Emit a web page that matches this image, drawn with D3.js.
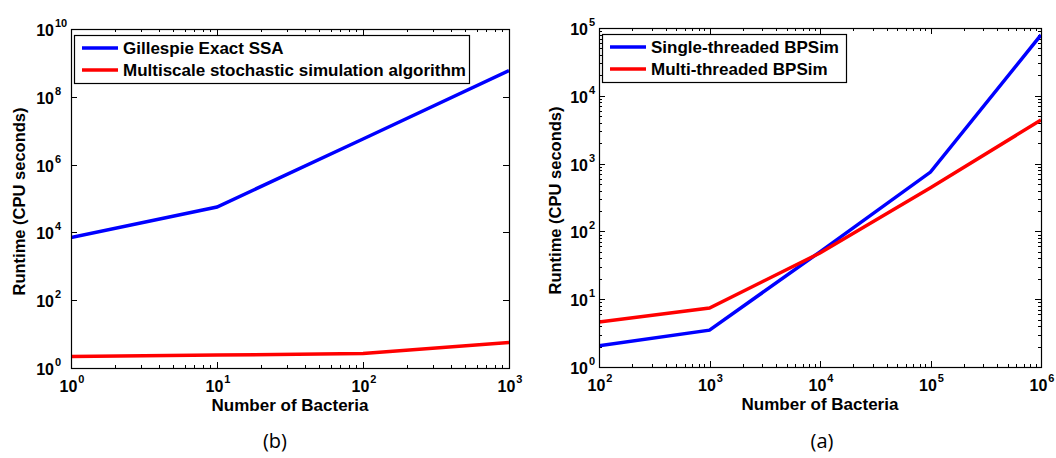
<!DOCTYPE html>
<html lang="en">
<head>
  <meta charset="utf-8" />
  <title>Runtime vs number of bacteria</title>
  <script src="https://cdn.jsdelivr.net/npm/d3@7"></script>
  <style>
    body { margin: 0; background: #fff; }
    svg text { font-family: "Liberation Sans", Arial, sans-serif; font-weight: bold; fill: #000; }
    svg text.caption { font-family: "Open Sans", "Liberation Sans", sans-serif; font-weight: normal; }
  </style>
</head>
<body>
<div id="chart"></div>
<script>
  // ---- data ----
  // panel (b): small populations
  const bacteriaB = [1, 10, 100, 1000];
  const gillespieSSA = [7000, 56000, 5.7e6, 5.9e8];
  const multiscaleSSA = [2.2, 2.4, 2.7, 5.7];
  const xExpB = [0, 1, 2, 3];
  const yExpB = [0, 2, 4, 6, 8, 10];

  // panel (a): BPSim
  const bacteriaA = [1e2, 1e3, 1e4, 1e5, 1e6];
  const singleThreaded = [2.05, 3.5, 50, 750, 79000];
  const multiThreaded = [4.6, 7.4, 48, 440, 4400];
  const xExpA = [2, 3, 4, 5, 6];
  const yExpA = [0, 1, 2, 3, 4, 5];

  const w = 1056, h = 458;
  const svg = d3.select("#chart").append("svg")
      .attr("width", w)
      .attr("height", h);

  function minorValues(expLo, expHi) {
    const out = [];
    for (let k = expLo; k < expHi; k++) {
      for (let m = 2; m <= 9; m++) out.push(m * Math.pow(10, k));
    }
    return out;
  }

  function drawPanel(cfg) {
    const x = d3.scaleLog().domain(cfg.xDomain).range([cfg.left, cfg.right]);
    const y = d3.scaleLog().domain(cfg.yDomain).range([cfg.bottom, cfg.top]);
    const g = svg.append("g");

    const majorX = cfg.xExp.map(e => Math.pow(10, e));
    const minorX = minorValues(cfg.xExp[0], cfg.xExp[cfg.xExp.length - 1]);
    const majorY = cfg.yExp.map(e => Math.pow(10, e));
    const minorY = cfg.yMinor ? minorValues(cfg.yExp[0], cfg.yExp[cfg.yExp.length - 1]) : [];

    // ticks point inward on all four sides
    const tickG = g.append("g").attr("stroke", "#000").attr("stroke-width", 1);
    function xTicks(vals, len) {
      vals.forEach(v => {
        const px = Math.round(x(v)) + 0.5;
        tickG.append("line").attr("x1", px).attr("x2", px).attr("y1", cfg.bottom).attr("y2", cfg.bottom - len);
        tickG.append("line").attr("x1", px).attr("x2", px).attr("y1", cfg.top).attr("y2", cfg.top + len);
      });
    }
    function yTicks(vals, len) {
      vals.forEach(v => {
        const py = Math.round(y(v)) + 0.5;
        tickG.append("line").attr("y1", py).attr("y2", py).attr("x1", cfg.left).attr("x2", cfg.left + len);
        tickG.append("line").attr("y1", py).attr("y2", py).attr("x1", cfg.right).attr("x2", cfg.right - len);
      });
    }
    xTicks(majorX, 6); xTicks(minorX, 3);
    yTicks(majorY, 6); yTicks(minorY, 3);

    // tick labels as 10^k
    cfg.xExp.forEach(e => {
      const t = g.append("text")
          .attr("x", x(Math.pow(10, e)) + 1)
          .attr("y", cfg.bottom + 24)
          .attr("text-anchor", "middle")
          .attr("font-size", 16);
      t.append("tspan").text("10");
      t.append("tspan").attr("font-size", 11).attr("dx", 1).attr("dy", -9).text(e);
    });
    // y labels: the base "10" is right-aligned, the exponent hangs to its right
    cfg.yExp.forEach(e => {
      const py = y(Math.pow(10, e));
      g.append("text")
          .attr("x", cfg.left - cfg.yBaseOff)
          .attr("y", py + 7)
          .attr("text-anchor", "end")
          .attr("font-size", 16)
          .text("10");
      g.append("text")
          .attr("x", cfg.left - cfg.yBaseOff + 1)
          .attr("y", py - 2)
          .attr("font-size", 11)
          .text(e);
    });

    // axis titles
    g.append("text")
        .attr("x", (cfg.left + cfg.right) / 2)
        .attr("y", cfg.bottom + 43)
        .attr("text-anchor", "middle")
        .attr("font-size", 17)
        .text("Number of Bacteria");
    g.append("text")
        .attr("transform", `translate(${cfg.left - cfg.yTitleOff},${(cfg.top + cfg.bottom) / 2 + 3}) rotate(-90)`)
        .attr("text-anchor", "middle")
        .attr("font-size", 16.5)
        .text("Runtime (CPU seconds)");

    // the series
    const clipId = "clip" + cfg.id;
    svg.append("clipPath").attr("id", clipId)
      .append("rect")
        .attr("x", cfg.left).attr("y", cfg.top)
        .attr("width", cfg.right - cfg.left).attr("height", cfg.bottom - cfg.top);
    const line = d3.line().x(d => x(d[0])).y(d => y(d[1]));
    cfg.series.forEach(s => {
      g.append("path")
          .attr("clip-path", `url(#${clipId})`)
          .attr("d", line(d3.zip(cfg.xs, s.values)))
          .attr("fill", "none")
          .attr("stroke", s.color)
          .attr("stroke-width", 3.5);
    });

    // frame
    g.append("rect")
        .attr("x", cfg.left + 0.5).attr("y", cfg.top + 0.5)
        .attr("width", cfg.right - cfg.left).attr("height", cfg.bottom - cfg.top)
        .attr("fill", "none").attr("stroke", "#000").attr("stroke-width", 1.2);

    // legend
    const lg = g.append("g").attr("transform", `translate(${cfg.left + 3},${cfg.top + 6})`);
    lg.append("rect")
        .attr("x", 0.5).attr("y", 0.5)
        .attr("width", cfg.legendW).attr("height", 48)
        .attr("fill", "#fff").attr("stroke", "#000").attr("stroke-width", 1.2);
    cfg.series.forEach((s, i) => {
      const ly = 13 + i * 22;
      lg.append("line")
          .attr("x1", 8).attr("x2", 44).attr("y1", ly).attr("y2", ly)
          .attr("stroke", s.color).attr("stroke-width", 3.5);
      lg.append("text")
          .attr("x", 49).attr("y", ly + 6)
          .attr("font-size", 17)
          .text(s.name);
    });

    // caption
    svg.append("text")
        .attr("class", "caption")
        .attr("x", cfg.captionX)
        .attr("y", 448)
        .attr("text-anchor", "middle")
        .attr("font-size", 20)
        .text(cfg.caption);
  }

  drawPanel({
    id: "b",
    left: 71, right: 509, top: 29, bottom: 368,
    xDomain: [1, 1000], yDomain: [1, 1e10],
    xExp: xExpB, yExp: yExpB, yMinor: false,
    xs: bacteriaB,
    series: [
      { name: "Gillespie Exact SSA", values: gillespieSSA, color: "#0000ff" },
      { name: "Multiscale stochastic simulation algorithm", values: multiscaleSSA, color: "#ff0000" }
    ],
    legendW: 395, yTitleOff: 46, yBaseOff: 17,
    caption: "(b)", captionX: 275
  });

  drawPanel({
    id: "a",
    left: 599, right: 1041, top: 28, bottom: 367,
    xDomain: [1e2, 1e6], yDomain: [1, 1e5],
    xExp: xExpA, yExp: yExpA, yMinor: true,
    xs: bacteriaA,
    series: [
      { name: "Single-threaded BPSim", values: singleThreaded, color: "#0000ff" },
      { name: "Multi-threaded BPSim", values: multiThreaded, color: "#ff0000" }
    ],
    legendW: 244, yTitleOff: 38, yBaseOff: 11,
    caption: "(a)", captionX: 822
  });
</script>
</body>
</html>
